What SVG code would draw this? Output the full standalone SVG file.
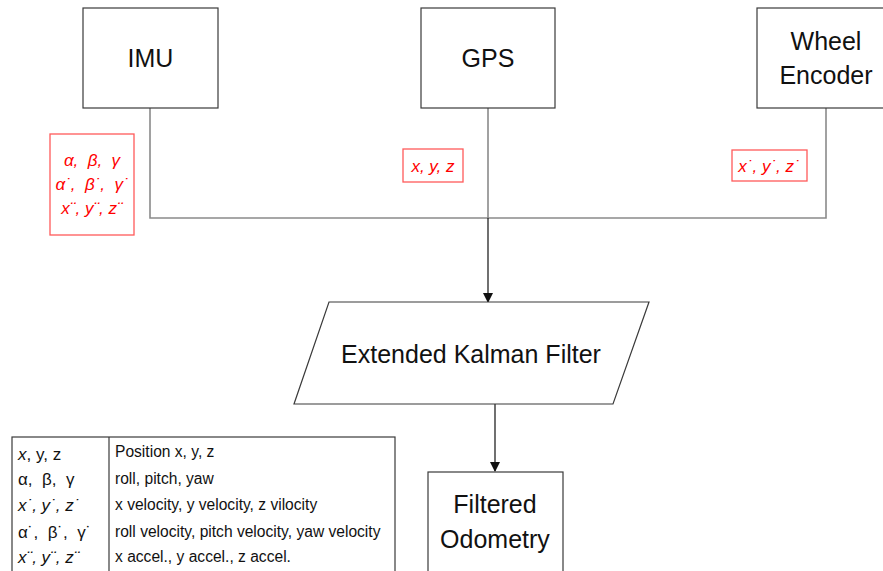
<svg xmlns="http://www.w3.org/2000/svg" width="883" height="571" viewBox="0 0 883 571">
<defs>
<style>
text{white-space:pre}
.box{fill:#fff;stroke:#3a3a3a;stroke-width:1.2}
.t{font-family:"Liberation Sans",Arial,sans-serif;fill:#111;text-anchor:middle}
.big{font-size:25px}
.red{font-family:"Liberation Sans",Arial,sans-serif;font-style:italic;fill:#ff0000;font-size:17px;text-anchor:middle}
.rbox{fill:#fff;stroke:#ff5a5a;stroke-width:1.3}
.conn{fill:none;stroke:#8a8a8a;stroke-width:1.6}
.arr{fill:none;stroke:#111;stroke-width:1.2}
.lg{font-family:"Liberation Sans",Arial,sans-serif;fill:#111;font-size:17px}
.ld{font-family:"Liberation Sans",Arial,sans-serif;fill:#111;font-size:15.6px}
</style>
<marker id="ah" markerWidth="10" markerHeight="10" refX="9" refY="5" orient="auto" markerUnits="userSpaceOnUse">
<path d="M0,0 L10,5 L0,10 Z" fill="#111"/>
</marker>
</defs>
<rect width="883" height="571" fill="#fff"/>
<g id="connectors">
<path class="conn" d="M150,108 V218 H826 V108"/>
<path class="conn" d="M488,108 V218"/>
<path class="arr" d="M488,218 V302" marker-end="url(#ah)"/>
<path class="arr" d="M495,404 V471" marker-end="url(#ah)"/>
</g>
<g id="imu">
<rect class="box" x="83" y="8" width="135" height="100"/>
<text class="t big" x="150.5" y="67">IMU</text>
</g>
<g id="gps">
<rect class="box" x="421" y="8" width="134" height="100"/>
<text class="t big" x="488" y="67">GPS</text>
</g>
<g id="wheel-encoder">
<rect class="box" x="757" y="8" width="135" height="100"/>
<text class="t big" x="826" y="50">Wheel</text>
<text class="t big" x="826" y="84">Encoder</text>
</g>
<g id="imu-label">
<rect class="rbox" x="50" y="134" width="84" height="101"/>
<text class="red" x="92" y="166">α,  β,  γ</text>
<text class="red" x="92" y="190">α˙,  β˙,  γ˙</text>
<text class="red" x="92" y="214">x¨, y¨, z¨</text>
</g>
<g id="gps-label">
<rect class="rbox" x="403" y="149" width="60" height="33"/>
<text class="red" x="433" y="172">x, y, z</text>
</g>
<g id="wheel-label">
<rect class="rbox" x="732" y="150" width="75" height="31"/>
<text class="red" x="769" y="172">x˙, y˙, z˙</text>
</g>
<g id="ekf">
<polygon class="box" points="329,302 649,302 613,404 294,404"/>
<text class="t big" x="471" y="363">Extended Kalman Filter</text>
</g>
<g id="filtered-odometry">
<rect class="box" x="428" y="472" width="135" height="110"/>
<text class="t big" x="495" y="513">Filtered</text>
<text class="t big" x="495" y="548">Odometry</text>
</g>
<g id="legend">
<rect x="12" y="437" width="383" height="140" fill="#fff" stroke="#3a3a3a" stroke-width="1.2"/>
<line x1="109" y1="437" x2="109" y2="571" stroke="#3a3a3a" stroke-width="1.2"/>
<text class="lg" x="18" y="460"><tspan font-style="italic">x</tspan>, y, z</text>
<text class="lg" x="18" y="485">α,  β,  γ</text>
<text class="lg" x="18" y="511"><tspan font-style="italic">x˙, y˙, z˙</tspan></text>
<text class="lg" x="18" y="538">α˙,  β˙,  γ˙</text>
<text class="lg" x="18" y="563"><tspan font-style="italic">x¨, y¨, z¨</tspan></text>
<text class="ld" x="115" y="457">Position x, y, z</text>
<text class="ld" x="115" y="484">roll, pitch, yaw</text>
<text class="ld" x="115" y="510">x velocity, y velocity, z vilocity</text>
<text class="ld" x="115" y="537">roll velocity, pitch velocity, yaw velocity</text>
<text class="ld" x="115" y="562">x accel., y accel., z accel.</text>
</g>
</svg>
